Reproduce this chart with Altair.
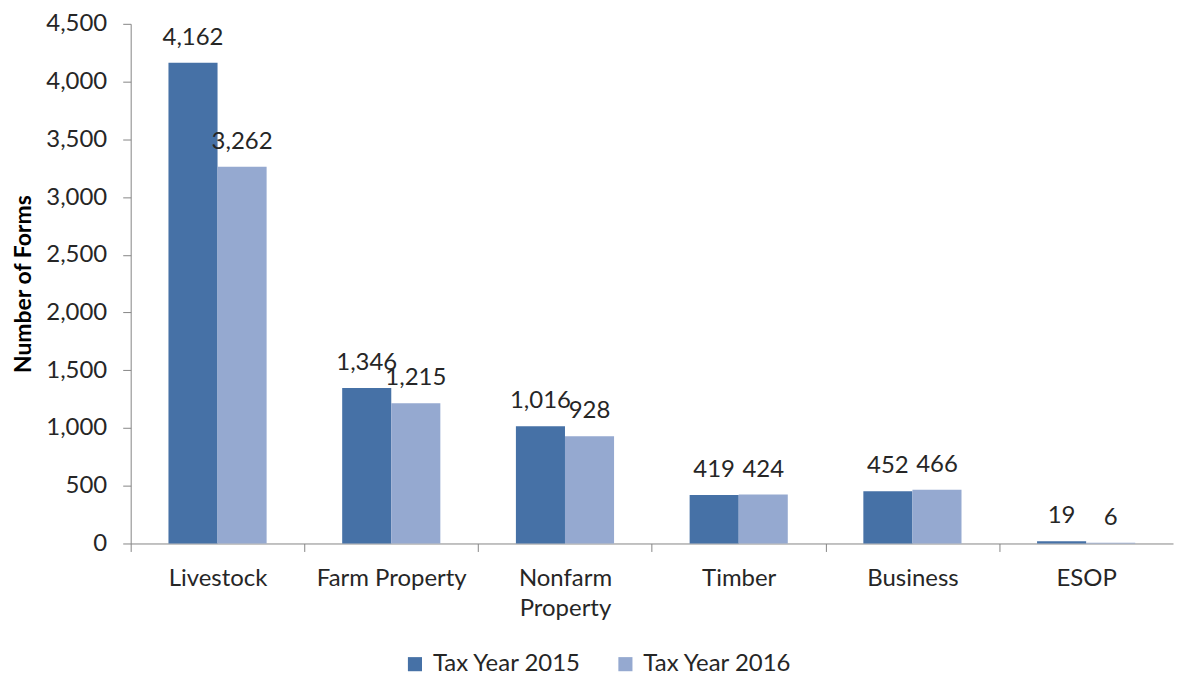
import altair as alt
import pandas as pd

categories = ["Livestock", "Farm Property", "Nonfarm Property", "Timber", "Business", "ESOP"]
series_names = ["Tax Year 2015", "Tax Year 2016"]
tax_2015 = [4162, 1346, 1016, 419, 452, 19]
tax_2016 = [3262, 1215, 928, 424, 466, 6]
colors = ["#4671A6", "#95A9D0"]
y_ticks = [0, 500, 1000, 1500, 2000, 2500, 3000, 3500, 4000, 4500]

rows = []
for c, a, b in zip(categories, tax_2015, tax_2016):
    rows.append({"category": c, "series": series_names[0], "value": a})
    rows.append({"category": c, "series": series_names[1], "value": b})
df = pd.DataFrame(rows)

W = 1045
H = 521
step = W / 6
FONT = "Lato"
TXT = "#262626"
AX = "#868686"
FS = 24

x_enc = alt.X(
    "category:N",
    sort=categories,
    title=None,
    scale=alt.Scale(paddingInner=0.435, paddingOuter=0.2175),
    axis=alt.Axis(
        labelAngle=0,
        labelFontSize=FS,
        labelFont=FONT,
        labelColor=TXT,
        domainColor=AX,
        tickColor=AX,
        tickSize=8,
        tickOffset=-step / 2,
        labelOffset=step / 2,
        labelPadding=15,
        labelLineHeight=30,
        labelExpr="datum.label == 'Nonfarm Property' ? ['Nonfarm', 'Property'] : datum.label",
    ),
)
xoff = alt.XOffset("series:N", sort=series_names, scale=alt.Scale(paddingInner=0, paddingOuter=0))
y_axis = alt.Axis(
    values=y_ticks,
    labelExpr="format(datum.value, ',')",
    grid=False,
    tickSize=8,
    tickColor=AX,
    domainColor=AX,
    labelFontSize=FS,
    labelFont=FONT,
    labelColor=TXT,
    labelPadding=16,
    title="Number of Forms",
    titleFont=FONT,
    titleFontSize=23,
    titleFontWeight="bold",
    titleColor="#000000",
    titlePadding=10,
)
y_enc = alt.Y("value:Q", scale=alt.Scale(domain=[0, 4500], nice=False), axis=y_axis)

bars = alt.Chart(df).mark_bar().encode(
    x=x_enc,
    xOffset=xoff,
    y=y_enc,
    color=alt.Color(
        "series:N",
        sort=series_names,
        scale=alt.Scale(domain=series_names, range=colors),
        legend=alt.Legend(
            title=None,
            orient="none",
            direction="horizontal",
            legendX=273,
            legendY=630,
            symbolType="square",
            symbolSize=200,
            symbolStrokeWidth=0,
            labelFontSize=FS,
            labelFont=FONT,
            labelColor=TXT,
            columnPadding=32,
            labelOffset=6,
        ),
    ),
)

labels = alt.Chart(df).mark_text(dy=-18, baseline="alphabetic", fontSize=FS, font=FONT, color=TXT).encode(
    x=x_enc,
    xOffset=xoff,
    y=y_enc,
    text=alt.Text("value:Q", format=","),
)

chart = (
    alt.layer(bars, labels)
    .properties(width=W, height=H, background="white",
                padding={"left": 4, "top": 3, "right": 2, "bottom": 0})
    .configure_view(stroke=None)
)

chart.save("out.html", embed_options={"renderer": "svg", "actions": False})
